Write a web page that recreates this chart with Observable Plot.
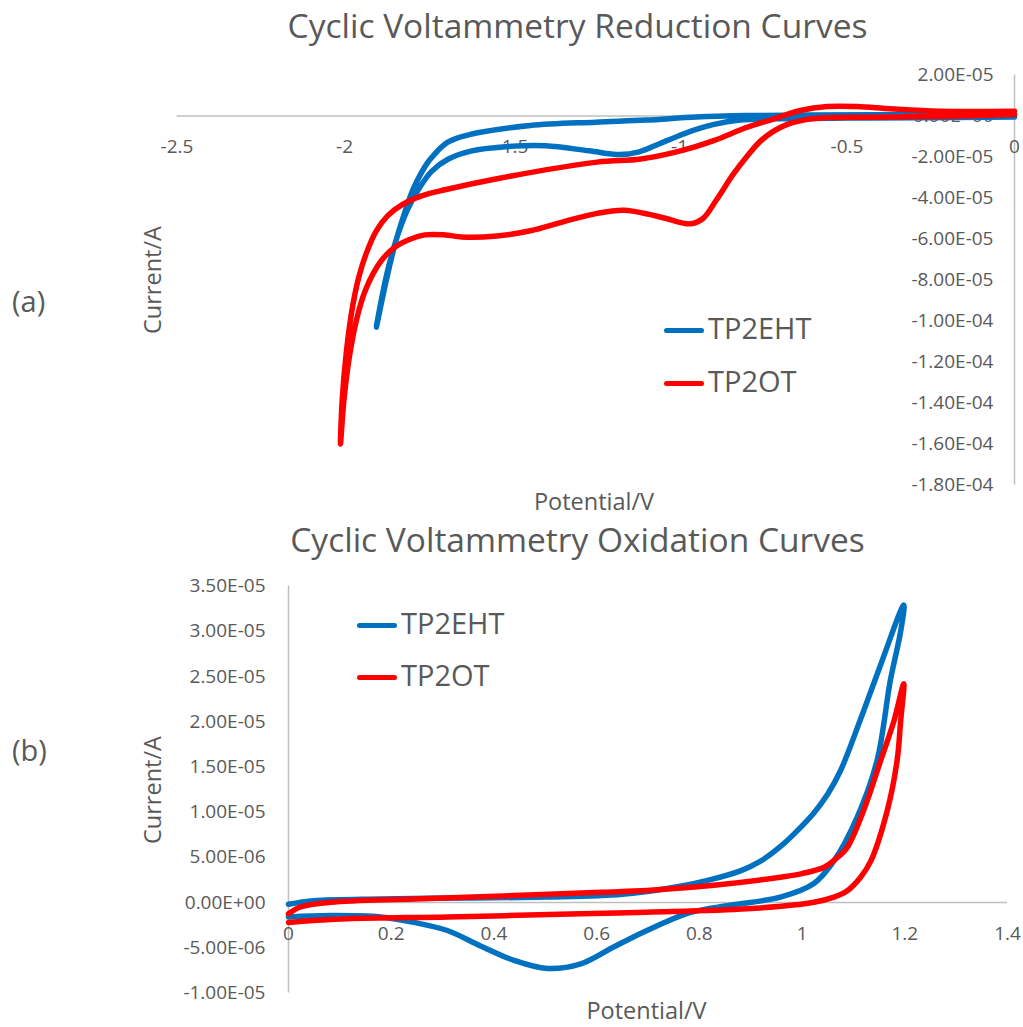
<!DOCTYPE html>
<html><head><meta charset="utf-8">
<script src="https://cdn.jsdelivr.net/npm/d3@7"></script>
<script src="https://cdn.jsdelivr.net/npm/@observablehq/plot@0.6"></script>
<style>
body{margin:0;background:#fff;}
#root{position:relative;width:1023px;height:1027px;overflow:hidden;font-family:"Open Sans",sans-serif;color:#595959;background:#fff;}
.abs{position:absolute;white-space:nowrap;line-height:1;}
.plotbox{position:absolute;left:0;}
.sw{position:absolute;height:5px;border-radius:2.5px;}
</style></head><body><div id="root"></div>
<script>
// ---- series ----
const seriesNames = ["TP2EHT", "TP2OT"];
const seriesColors = ["#0070C0", "#FF0000"];

// ---- text ----
const redTitle = "Cyclic Voltammetry Reduction Curves";
const oxTitle = "Cyclic Voltammetry Oxidation Curves";
const xLabel = "Potential/V";
const yLabel = "Current/A";
const panelLabels = ["(a)", "(b)"];

// ---- ticks (current values in µA) ----
const redXTicks = [-2.5, -2, -1.5, -1, -0.5, 0];
const redXTickLabels = ["-2.5", "-2", "-1.5", "-1", "-0.5", "0"];
const redYTicks = [20, 0, -20, -40, -60, -80, -100, -120, -140, -160, -180];
const redYTickLabels = ["2.00E-05", "0.00E+00", "-2.00E-05", "-4.00E-05", "-6.00E-05", "-8.00E-05", "-1.00E-04", "-1.20E-04", "-1.40E-04", "-1.60E-04", "-1.80E-04"];
const oxXTicks = [0, 0.2, 0.4, 0.6, 0.8, 1, 1.2, 1.4];
const oxXTickLabels = ["0", "0.2", "0.4", "0.6", "0.8", "1", "1.2", "1.4"];
const oxYTicks = [35, 30, 25, 20, 15, 10, 5, 0, -5, -10];
const oxYTickLabels = ["3.50E-05", "3.00E-05", "2.50E-05", "2.00E-05", "1.50E-05", "1.00E-05", "5.00E-06", "0.00E+00", "-5.00E-06", "-1.00E-05"];

// ---- reduction curves: potential (V), current (µA) ----
const redEhtV = [0, -0.3, -0.5, -0.7, -0.82, -0.9, -0.95, -1.0, -1.06, -1.12, -1.18, -1.27, -1.4, -1.52, -1.62, -1.69, -1.74, -1.78, -1.813, -1.845, -1.875, -1.905,
  -1.875, -1.85, -1.822, -1.793, -1.753, -1.73, -1.713, -1.694, -1.664, -1.62, -1.594, -1.445, -1.25, -1.1, -0.95, -0.8, -0.6, -0.3, 0];
const redEhtI = [-0.5, -0.9, -1.0, -1.3, -2.0, -4.2, -6.5, -9.5, -13.5, -17.5, -18.8, -17, -14.5, -15, -17, -21, -27, -36, -46, -60, -78, -103,
  -80, -63, -48, -35, -23, -18.5, -15.5, -13, -10.8, -8.8, -7.9, -4.6, -3.0, -2.0, -0.5, 0.2, 0.5, 0.7, 0.8];
const redOtV = [0, -0.22, -0.42, -0.57, -0.63, -0.68, -0.72, -0.76, -0.80, -0.84, -0.89, -0.93, -0.967, -1.04, -1.09, -1.166, -1.246, -1.345, -1.445, -1.545, -1.65, -1.70, -1.76, -1.81, -1.85, -1.885, -1.915, -1.94, -1.962, -1.985, -2.002, -2.012,
  -2.007, -1.995, -1.978, -1.958, -1.935, -1.905, -1.87, -1.83, -1.77, -1.7, -1.545, -1.246, -1.116, -0.997, -0.898, -0.798, -0.718, -0.639, -0.559, -0.47, -0.37, -0.221, 0];
const redOtI = [0.7, -0.2, -0.6, -0.9, -2.0, -4.2, -7.5, -12.5, -20, -28.5, -41, -50, -52.6, -50, -48, -46, -47.5, -51.5, -56, -58.5, -59, -58, -58, -60.5, -64, -69.5, -77, -86, -98, -117, -139, -160,
  -139, -116, -95, -79, -67, -56, -48.5, -43.5, -39, -36, -30.6, -22.5, -21, -17, -12, -5.5, -1.4, 2.7, 4.6, 4.6, 3.5, 2.3, 2.3];

// ---- oxidation curves: potential (V), current (µA) ----
const oxEhtV = [0, 0.049, 0.179, 0.35, 0.5, 0.65, 0.763, 0.82, 0.88, 0.92, 0.958, 0.99, 1.023, 1.05, 1.075, 1.114, 1.153, 1.198,
  1.192, 1.172, 1.146, 1.107, 1.062, 1.023, 0.958, 0.86, 0.783, 0.698, 0.634, 0.569, 0.504, 0.439, 0.374, 0.309, 0.244, 0.179, 0.082, 0];
const oxEhtI = [-0.2, 0.2, 0.4, 0.5, 0.6, 0.9, 1.8, 2.5, 3.5, 4.6, 6.2, 7.9, 9.9, 12.0, 14.6, 20.3, 26.3, 32.9,
  30.0, 24.6, 15.7, 9.4, 4.6, 2.1, 0.6, -0.3, -1.1, -3.1, -4.9, -6.8, -7.3, -6.4, -4.8, -3.1, -2.2, -1.6, -1.44, -1.6];
const oxOtV = [0, 0.023, 0.082, 0.244, 0.439, 0.608, 0.698, 0.828, 0.958, 1.0, 1.043, 1.065, 1.088, 1.12, 1.153, 1.179, 1.198,
  1.192, 1.185, 1.166, 1.134, 1.114, 1.088, 1.062, 1.023, 0.893, 0.698, 0.569, 0.309, 0.114, 0];
const oxOtI = [-1.25, -0.5, 0.03, 0.4, 0.77, 1.14, 1.33, 1.9, 2.8, 3.2, 3.9, 4.8, 6.1, 10.2, 15.7, 20.1, 24.2,
  20.1, 15.7, 10.2, 4.6, 2.8, 1.3, 0.6, 0.03, -0.7, -1.07, -1.25, -1.6, -1.8, -2.2];

// ---- build tables ----
const rows = (name, V, I) => V.map((v, k) => ({series: name, v, i: I[k]}));
const ticks = (vals, labels) => vals.map((value, k) => ({value, label: labels[k]}));
const redData = [...rows(seriesNames[0], redEhtV, redEhtI), ...rows(seriesNames[1], redOtV, redOtI)];
const oxData = [...rows(seriesNames[0], oxEhtV, oxEhtI), ...rows(seriesNames[1], oxOtV, oxOtI)];

const axisColor = "#bfbfbf";
const textColor = "#595959";
const FONT = '"Open Sans", sans-serif';
const lineOpts = {x: "v", y: "i", z: "series", stroke: "series", strokeWidth: 5.5, curve: "catmull-rom", strokeLinecap: "round", strokeLinejoin: "round"};

const root = document.getElementById("root");

function addPlot(svg, y) {
  const box = document.createElement("div");
  box.className = "plotbox";
  box.style.top = y + "px";
  box.appendChild(svg);
  root.appendChild(box);
}

// Top: reduction
const reductionPlot = Plot.plot({
  width: 1023, height: 525,
  marginLeft: 176.5, marginRight: 9, marginTop: 74.5, marginBottom: 40.5,
  x: {domain: [-2.5, 0], axis: null},
  y: {domain: [-180, 20], axis: null},
  color: {domain: seriesNames, range: seriesColors},
  style: {fontFamily: FONT, background: "transparent", overflow: "visible"},
  marks: [
    Plot.ruleY([0], {stroke: axisColor, strokeWidth: 1.5}),
    Plot.ruleX([0], {stroke: axisColor, strokeWidth: 1.5}),
    Plot.text(ticks(redXTicks, redXTickLabels), {x: "value", y: () => 0, text: "label", dy: 31, fontSize: 19, fill: textColor}),
    Plot.text(ticks(redYTicks, redYTickLabels), {x: () => 0, y: "value", text: "label", textAnchor: "end", dx: -21, fontSize: 19, fill: textColor}),
    Plot.line(redData, lineOpts)
  ]
});
addPlot(reductionPlot, 0);

// Bottom: oxidation
const oxidationPlot = Plot.plot({
  width: 1023, height: 502,
  marginLeft: 288, marginRight: 16, marginTop: 60.6, marginBottom: 34.6,
  x: {domain: [0, 1.4], axis: null},
  y: {domain: [-10, 35], axis: null},
  color: {domain: seriesNames, range: seriesColors},
  style: {fontFamily: FONT, background: "transparent", overflow: "visible"},
  marks: [
    Plot.ruleY([0], {stroke: axisColor, strokeWidth: 1.5}),
    Plot.ruleX([0], {stroke: axisColor, strokeWidth: 1.5}),
    Plot.text(ticks(oxXTicks, oxXTickLabels), {x: "value", y: () => 0, text: "label", dy: 31, fontSize: 19, fill: textColor}),
    Plot.text(ticks(oxYTicks, oxYTickLabels), {x: () => 0, y: "value", text: "label", textAnchor: "end", dx: -23, fontSize: 19, fill: textColor}),
    Plot.line(oxData, lineOpts)
  ]
});
addPlot(oxidationPlot, 525);

// ---- HTML text ----
function label(text, {x, baseline, size, anchor = "middle", rotate = false}) {
  const d = document.createElement("div");
  d.className = "abs";
  d.textContent = text;
  d.style.fontSize = size + "px";
  if (rotate) {
    d.style.left = (x - 0.388 * size) + "px";
    d.style.top = baseline + "px";
    d.style.transform = "translate(-50%,-50%) rotate(-90deg)";
  } else {
    d.style.left = x + "px";
    d.style.top = (baseline - 0.888 * size) + "px";
    if (anchor === "middle") d.style.transform = "translateX(-50%)";
  }
  root.appendChild(d);
}
label(redTitle, {x: 577.5, baseline: 39, size: 33.5});
label(oxTitle, {x: 577.5, baseline: 553, size: 33.5});
label(panelLabels[0], {x: 12, baseline: 312, size: 29, anchor: "start"});
label(panelLabels[1], {x: 12, baseline: 761, size: 29, anchor: "start"});
label(xLabel, {x: 594, baseline: 511, size: 23.5});
label(xLabel, {x: 646.5, baseline: 1020, size: 23.5});
label(yLabel, {x: 162, baseline: 280, size: 23.5, rotate: true});
label(yLabel, {x: 162, baseline: 790, size: 23.5, rotate: true});

// ---- legends ----
function legend(x, y0, gap) {
  seriesNames.forEach((name, k) => {
    const cy = y0 + k * gap;
    const sw = document.createElement("div");
    sw.className = "sw";
    sw.style.left = x + "px";
    sw.style.width = "40px";
    sw.style.top = (cy - 2.5) + "px";
    sw.style.background = seriesColors[k];
    root.appendChild(sw);
    label(name, {x: x + 44, baseline: cy + 8.5, size: 29, anchor: "start"});
  });
}
legend(664, 330.5, 52.8);
legend(357, 625, 52.5);
</script></body></html>
